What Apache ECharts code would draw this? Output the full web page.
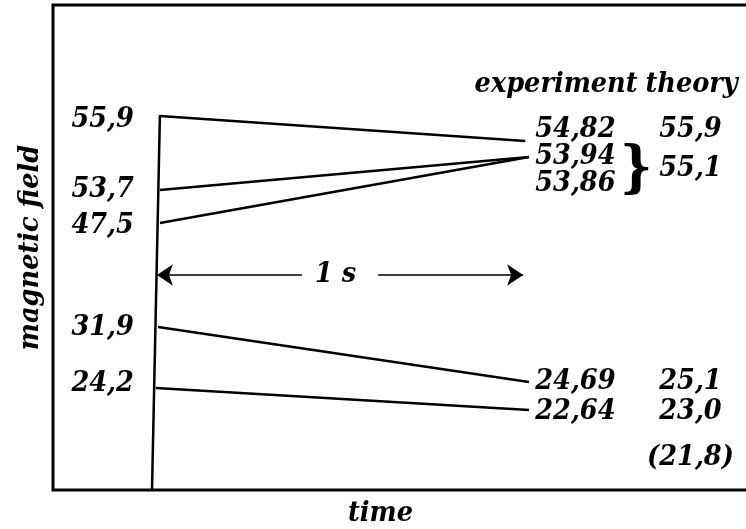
<!DOCTYPE html>
<html>
<head>
<meta charset="utf-8">
<script src="https://cdn.jsdelivr.net/npm/echarts@6/dist/echarts.min.js"></script>
<style>
  html, body { margin: 0; padding: 0; background: #fff; }
  #main { width: 746px; height: 529px; }
</style>
</head>
<body>
<div id="main"></div>
<script>
// field lines: start (left) -> after 1 s (right); levels are schematic ordinates of the sketch
const startField = ['55,9', '53,7', '47,5', '31,9', '24,2'];
const startFieldLevel = [74.0, 60.0, 52.8, 32.4, 21.2];
const startTime = [0.012, 0.012, 0.012, 0.007, 0.001];
const startLevel = [74.8, 60, 53.4, 32.6, 20.4];
const endTime = [1.01, 1.02, 1.02, 1.02, 1.02];
const endLevel = [69.8, 66.6, 66.6, 21.6, 16];

const experiment = ['54,82', '53,94', '53,86', '24,69', '22,64'];
const experimentLevel = [72.0, 66.6, 61.2, 21.6, 15.6];
const theory = ['55,9', '55,1', '25,1', '23,0', '(21,8)'];
const theoryLevel = [72.0, 64.2, 21.6, 15.6, 6.4];

// the time axis (the slanted start line) and the "1 s" span
const timeAxisLine = [[-0.0096, 0], [0.012, 75]];
const spanLevel = 43;
const spanArrows = [[[0.40, spanLevel], [0.004, spanLevel]], [[0.608, spanLevel], [1.004, spanLevel]]];

const FONT = "'DejaVu Serif Condensed', 'DejaVu Serif', serif";
const txt = { fontFamily: FONT, fontStyle: 'italic', fontWeight: 'bold', color: '#000', fontSize: 28.5, opacity: 1, textBorderWidth: 0 };

function textSeries(items, position, extra) {
  return {
    type: 'scatter',
    symbolSize: 0.1,
    itemStyle: { color: 'transparent' },
    silent: true,
    data: items.map(d => ({ value: [d[0], d[1]], name: d[2] })),
    label: Object.assign({ show: true, position: position, distance: 0, formatter: p => p.name }, txt, extra || {})
  };
}

const segments = startTime.map((t, i) => ({ coords: [[t, startLevel[i]], [endTime[i], endLevel[i]]] }));

const chart = echarts.init(document.getElementById('main'));
chart.setOption({
  animation: false,
  grid: {
    left: 53, top: 5, bottom: 39, right: -10, outerBoundsMode: 'none', containLabel: false,
    show: true, borderColor: '#000', borderWidth: 3
  },
  xAxis: {
    type: 'value', min: -0.28, max: 1.64,
    axisLine: { show: false }, axisTick: { show: false }, axisLabel: { show: false }, splitLine: { show: false },
    name: 'time', nameLocation: 'middle', nameGap: 9,
    nameTextStyle: Object.assign({}, txt, { padding: [0, 48, 0, 0] })
  },
  yAxis: {
    type: 'value', min: 0, max: 97,
    axisLine: { show: false }, axisTick: { show: false }, axisLabel: { show: false }, splitLine: { show: false },
    name: 'magnetic field', nameLocation: 'middle', nameGap: 8, nameRotate: 90,
    nameTextStyle: Object.assign({}, txt)
  },
  series: [
    {
      type: 'lines', coordinateSystem: 'cartesian2d', silent: true,
      lineStyle: { color: '#000', width: 2.5, opacity: 1 },
      data: segments.concat([{ coords: timeAxisLine }])
    },
    {
      type: 'lines', coordinateSystem: 'cartesian2d', silent: true,
      symbol: ['none', 'arrow'], symbolSize: [10, 16],
      lineStyle: { color: '#000', width: 1.5, opacity: 1 },
      data: spanArrows.map(c => ({ coords: c }))
    },
    textSeries(startField.map((s, i) => [-0.059, startFieldLevel[i], s]), 'left'),
    textSeries(experiment.map((s, i) => [1.037, experimentLevel[i], s]), 'right'),
    textSeries(theory.map((s, i) => [1.461, theoryLevel[i], s]), 'inside'),
    textSeries([[1.094, 81.0, 'experiment'], [1.464, 81.0, 'theory'], [0.492, spanLevel, '1 s']], 'inside'),
    textSeries([[1.313, 63.8, '}']], 'inside', { fontSize: 56, fontStyle: 'normal' })
  ]
});
</script>
</body>
</html>
